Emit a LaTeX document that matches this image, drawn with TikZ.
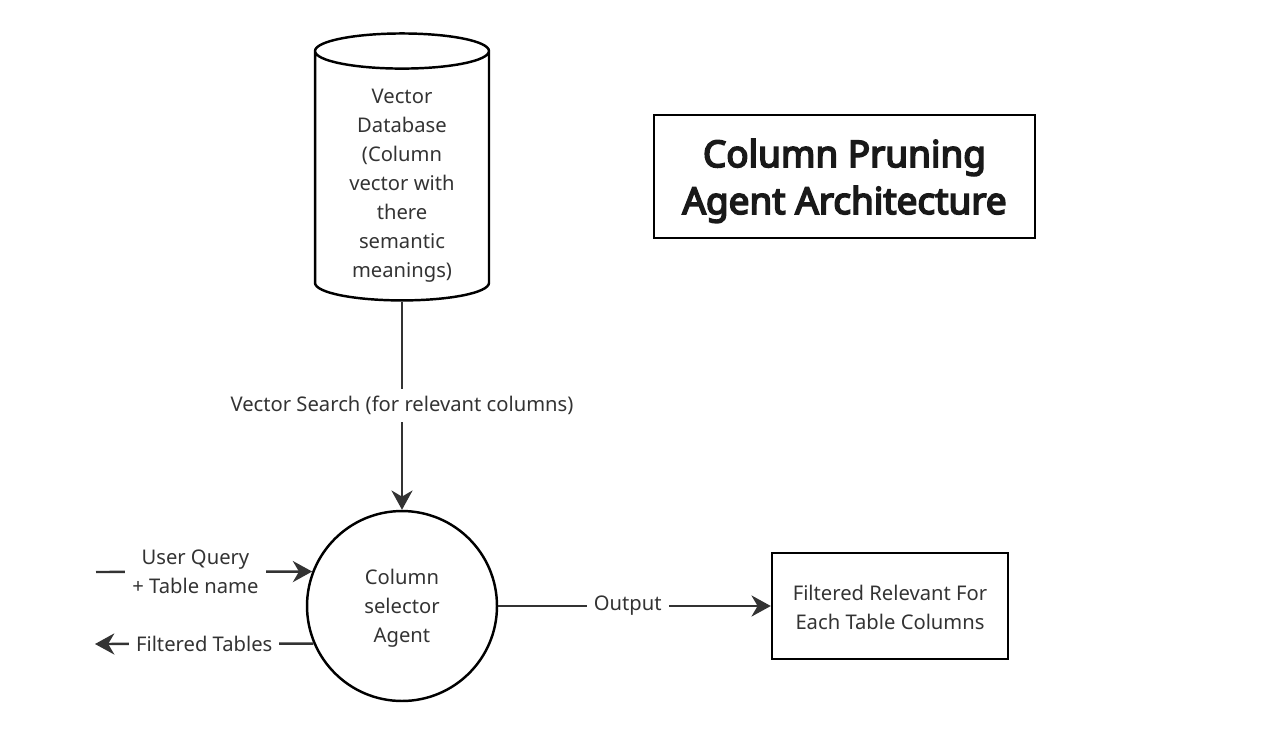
\documentclass[tikz,border=0pt]{standalone}
\usepackage{fontspec}
\setmainfont{Noto Sans}[AutoFakeBold=4.5]
\usetikzlibrary{arrows.meta,shapes.geometric}

\begin{document}
\begin{tikzpicture}[x=0.02cm,y=-0.02cm,line width=1.4pt,
    txt/.style={text=black!80,font=\fontsize{11.5}{16.5}\selectfont,align=center},
    lab/.style={txt,fill=white,inner sep=4pt},
    arr/.style={draw=black!80,-{Stealth[length=11pt,width=12pt,inset=3.5pt]}}]
    \useasboundingbox (0,0) rectangle (1280,737);
    \node[draw,cylinder,shape border rotate=90,aspect=0.3,minimum width=3.48cm,minimum height=5.34cm,txt] (db) at (402,179.5)
        {\rule{0pt}{15.5pt}Vector\\Database\\(Column\\vector with\\there\\semantic\\meanings)};
    \node[draw,minimum width=7.62cm,minimum height=2.46cm,font=\bfseries\fontsize{21}{26.7}\selectfont,text=black!90,align=center] (title) at (844.5,176.5)
        {\rule{0pt}{21pt}Column Pruning\\Agent Architecture};
    \node[draw,circle,minimum size=3.8cm,txt] (sel) at (402,606) {\rule{0pt}{11pt}Column\\selector\\Agent};
    \node[draw,minimum width=4.72cm,minimum height=2.12cm,txt] (res) at (890,606) {\rule{0pt}{10pt}Filtered Relevant For\\Each Table Columns};
    \coordinate (uq) at (96,572);
    \coordinate (ft) at (95,644);
    \draw[arr] (db.south) -- node[lab] {Vector Search (for relevant columns)} (sel.north);
    \draw[arr] (uq) -- node[lab,pos=0.46] {User Query\\+ Table name} (sel.159);
    \draw[arr] (sel.203) -- node[lab] {Filtered Tables} (ft);
    \draw[arr] (sel) -- node[lab,pos=0.475] {Output} (res);
\end{tikzpicture}
\end{document}
